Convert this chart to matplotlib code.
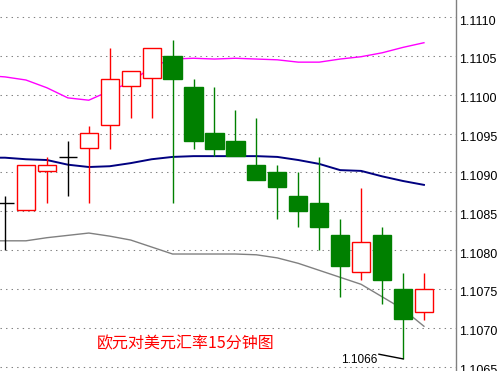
import numpy as np
import matplotlib.pyplot as plt
from matplotlib.patches import Rectangle
from matplotlib.transforms import ScaledTranslation

plt.rcParams['font.family'] = ['Liberation Sans', 'DejaVu Sans']

# 15-minute EUR/USD candles
opens  = [1.10861, 1.10852, 1.10902, 1.10920, 1.10931, 1.10961, 1.11011, 1.11021, 1.11050, 1.11010,
          1.10951, 1.10940, 1.10910, 1.10901, 1.10870, 1.10861, 1.10819, 1.10772, 1.10819, 1.10750, 1.10720]
highs  = [1.10870, 1.10910, 1.10920, 1.10940, 1.10960, 1.11060, 1.11031, 1.11060, 1.11070, 1.11020,
          1.11010, 1.10980, 1.10970, 1.10910, 1.10901, 1.10920, 1.10840, 1.10880, 1.10830, 1.10771, 1.10771]
lows   = [1.10800, 1.10852, 1.10861, 1.10870, 1.10861, 1.10930, 1.10970, 1.10970, 1.10861, 1.10930,
          1.10921, 1.10921, 1.10890, 1.10840, 1.10830, 1.10800, 1.10740, 1.10762, 1.10731, 1.10660, 1.10710]
closes = [1.10861, 1.10910, 1.10910, 1.10920, 1.10951, 1.11020, 1.11031, 1.11060, 1.11020, 1.10940,
          1.10930, 1.10921, 1.10890, 1.10881, 1.10850, 1.10830, 1.10780, 1.10810, 1.10762, 1.10711, 1.10750]

# Bollinger bands, one value per bar starting one bar before the first candle
band_upper = [1.11025, 1.11023, 1.11019, 1.11009, 1.10996, 1.10993, 1.11005, 1.11016, 1.11036, 1.11046, 1.11047,
              1.11046, 1.11047, 1.11046, 1.11045, 1.11042, 1.11042, 1.11046, 1.11049, 1.11054, 1.11061, 1.11067]
band_mid   = [1.10919, 1.10919, 1.10917, 1.10916, 1.10910, 1.10907, 1.10908, 1.10912, 1.10917, 1.10920, 1.10921,
              1.10921, 1.10921, 1.10921, 1.10920, 1.10916, 1.10911, 1.10903, 1.10902, 1.10895, 1.10889, 1.10884]
band_lower = [1.10812, 1.10812, 1.10812, 1.10816, 1.10819, 1.10822, 1.10818, 1.10813, 1.10804, 1.10795, 1.10795,
              1.10795, 1.10795, 1.10794, 1.10790, 1.10783, 1.10774, 1.10765, 1.10756, 1.10740, 1.10724, 1.10702]

yticks = [1.1065, 1.1070, 1.1075, 1.1080, 1.1085, 1.1090, 1.1095, 1.1100, 1.1105, 1.1110]

fig = plt.figure(figsize=(4.99, 3.71), dpi=100)
ax = fig.add_axes([0, 0, 456 / 499, 1])

x = np.arange(len(opens))
xb = np.arange(-1, len(band_upper) - 1)

ax.plot(xb, band_upper, color='#ff00ff', lw=1.0, zorder=2)
ax.plot(xb, band_mid, color='#000080', lw=1.4, zorder=2)
ax.plot(xb, band_lower, color='#808080', lw=1.0, zorder=2)

w = 0.87
for i in x:
    o, h, l, c = opens[i], highs[i], lows[i], closes[i]
    if c > o:
        col = 'red'
        face = 'white'
    elif c < o:
        col = 'green'
        face = 'green'
    else:
        col = 'black'
        face = 'black'
    ax.vlines(i, l, h, color=col, lw=1.0, zorder=3)
    if c == o:
        ax.hlines(o, i - w / 2, i + w / 2, color=col, lw=1.0, zorder=4)
    else:
        ax.add_patch(Rectangle((i - w / 2, min(o, c)), w, abs(c - o),
                               facecolor=face, edgecolor=col, lw=1.0, zorder=4))

# low marker
ax.plot([17.85, 19], [1.10666, 1.10660], color='black', lw=1.0, zorder=5)
ax.text(16.05, 1.10658, '1.1066', fontsize=8.5, color='black', va='center', ha='left')

ax.text(4.4, 1.10680, '欧元对美元汇率15分钟图', color='red', fontsize=11.5,
        family=['Noto Sans CJK SC', 'DejaVu Sans'], va='center', ha='left')

ax.set_xlim(-0.239, 21.53)
ax.set_ylim(1.106444, 1.11122)

ax.set_yticks(yticks)
ax.set_yticklabels(['%.4f' % t for t in yticks])
ax.yaxis.tick_right()
ax.tick_params(axis='y', length=0, pad=2, labelsize=9, colors='black')
ax.set_xticks([])
ax.grid(True, axis='y', color='#808080', lw=0.75, linestyle=(0, (1.33, 4)))

for s in ['top', 'left', 'bottom']:
    ax.spines[s].set_visible(False)
ax.spines['right'].set_color('#808080')
ax.spines['right'].set_linewidth(1.0)

offset = ScaledTranslation(0, -3 / 100, fig.dpi_scale_trans)
for lab in ax.get_yticklabels():
    lab.set_transform(lab.get_transform() + offset)

fig.savefig('out.png', dpi=100)
